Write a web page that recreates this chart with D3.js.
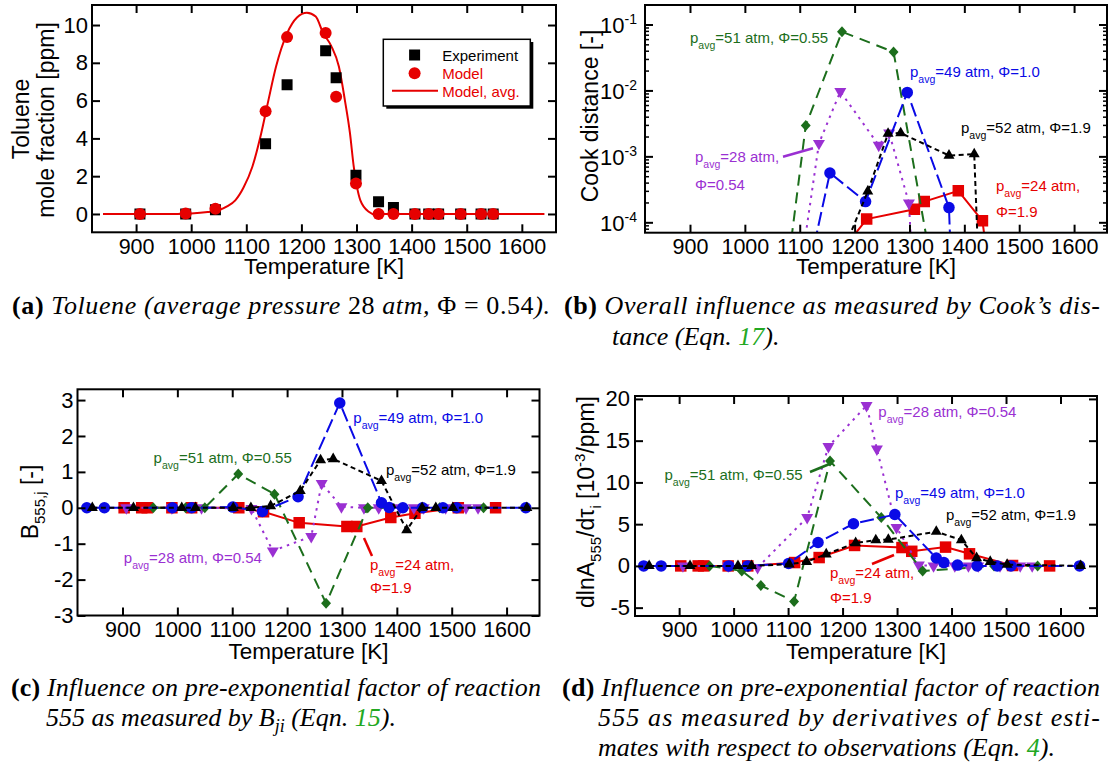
<!DOCTYPE html>
<html><head><meta charset="utf-8">
<script src="https://cdn.jsdelivr.net/npm/d3@7/dist/d3.min.js"></script>
<style>html,body{margin:0;padding:0;background:#fff;}svg{display:block}</style>
</head><body>
<svg id="fig" width="1110" height="772" xmlns="http://www.w3.org/2000/svg"></svg>
<script>
// ================= DATA =================
const xTickVals = [900, 1000, 1100, 1200, 1300, 1400, 1500, 1600];

// (a) Toluene, 28 atm, phi=0.54
const tolT     = [907, 990, 1044, 1135, 1174, 1244, 1263, 1299, 1340, 1367, 1406, 1431, 1449, 1489, 1526, 1548];
const tolExp   = [0, 0, 0.23, 3.71, 6.84, 8.64, 7.21, 2.05, 0.65, 0.34, 0, 0, 0, 0, 0, 0];
const tolModel = [0, 0.02, 0.28, 5.44, 9.36, 9.58, 6.2, 1.61, 0, 0, 0, 0, 0, 0, 0, 0];
const avgT = [840, 950, 1000, 1030, 1050, 1065, 1080, 1095, 1111, 1127, 1140, 1154, 1174, 1192, 1210, 1226, 1239, 1254, 1268, 1279, 1288, 1295, 1307, 1323, 1335, 1350, 1641];
const avgV = [0, 0, 0.03, 0.1, 0.2, 0.4, 0.72, 1.4, 2.5, 4.26, 6.0, 7.8, 9.56, 10.4, 10.65, 10.45, 9.6, 8.9, 7.8, 6.0, 4.3, 2.5, 0.72, 0.1, -0.05, 0, 0];
const aYTicks = [0, 2, 4, 6, 8, 10];

// p_avg=24 atm, phi=1.9 (red squares)
const redT    = [903, 935, 945, 990, 1026, 1112, 1157, 1222, 1309, 1327, 1389, 1433, 1512, 1580];
const redCook = [1e-9, 1e-9, 1e-9, 1e-9, 1e-9, 1e-8, 2.3e-5, 1.14e-4, 1.6e-4, 2.1e-4, 3.05e-4, 1.07e-4, 1e-9, 1e-9];
const redB    = [0, 0, 0, 0, 0, 0, -0.11, -0.42, -0.52, -0.52, -0.27, -0.15, 0, 0];
const redD    = [0, 0, 0, 0, 0, 0.4, 1.0, 2.45, 2.2, 1.75, 2.25, 1.45, 0.05, 0];

// p_avg=28 atm, phi=0.54 (purple down triangles)
const purT    = [907, 990, 1044, 1135, 1174, 1244, 1263, 1299, 1340, 1367, 1406, 1431, 1449, 1489, 1526, 1548];
const purCook = [1e-10, 1e-10, 1e-8, 1.6e-3, 9.8e-3, 1.5e-3, 2.3e-3, 2.0e-4, 1e-10, 1e-10, 1e-10, 1e-10, 1e-10, 1e-10, 1e-10, 1e-10];
const purB    = [0, 0, 0, -0.02, -1.2, -0.8, 0.68, 0.03, 0, 0, 0, 0, 0, 0, 0, 0];
const purD    = [0, 0, -0.2, 5.8, 14.3, 19.2, 14.0, 4.6, 0.1, 0, 0, 0, 0, 0, 0, 0];

// p_avg=51 atm, phi=0.55 (green diamonds)
const grnT    = [956, 1015, 1050, 1111, 1177, 1271, 1347, 1478, 1558];
const grnCook = [1e-9, 1e-8, 3e-7, 3.0e-3, 0.079, 0.039, 1.07e-5, 1e-9, 1e-9];
const grnB    = [0, 0, 0, 0.94, 0.38, -2.66, 0, 0, 0];
const grnD    = [0, -0.6, -2.35, -4.25, 12.55, 5.8, -0.6, 0, 0];

// p_avg=49 atm, phi=1.0 (blue circles)
const bluT    = [835, 867, 991, 1026, 1101, 1155, 1220, 1296, 1372, 1386, 1411, 1447, 1484, 1509, 1635];
const bluCook = [1e-9, 1e-9, 1e-9, 1e-9, 5e-6, 5.7e-4, 2.1e-4, 9.5e-3, 1.7e-4, 1e-7, 1e-9, 1e-9, 1e-9, 1e-9, 1e-9];
const bluB    = [0, 0, 0, 0, 0.02, -0.1, 0.31, 2.92, 0.14, 0.01, 0, 0, 0, 0, 0];
const bluD    = [0, 0, 0, 0, 0.3, 2.8, 5.05, 6.15, 0.95, 0.4, 0.1, 0, 0, 0, 0];

// p_avg=52 atm, phi=1.9 (black triangles)
const blkT    = [845, 920, 1008, 1033, 1102, 1134, 1170, 1224, 1261, 1284, 1372, 1418, 1446, 1471, 1502, 1637];
const blkCook = [1e-9, 1e-9, 1e-9, 1e-9, 1e-9, 1e-9, 2.4e-5, 3.0e-4, 2.25e-3, 2.3e-3, 1.05e-3, 1.1e-3, 1e-9, 1e-9, 1e-9, 1e-9];
const blkB    = [0, 0, 0, 0, 0, 0, 0.05, 0.47, 1.33, 1.36, 0.75, -0.62, 0, 0, 0, 0];
const blkD    = [0, 0, 0, 0, 0.2, 0.5, 1.4, 2.75, 3.1, 3.15, 4.1, 3.1, 0.95, 0.5, 0.15, 0];

const bYMajor  = [1e-4, 1e-3, 1e-2, 1e-1];
const bYLabels = ["-4", "-3", "-2", "-1"];
const cYTicks = [-3, -2, -1, 0, 1, 2, 3];
const dYTicks = [-5, 0, 5, 10, 15, 20];

// ================= SETUP =================
const SANS = "'Liberation Sans', Arial, Helvetica, sans-serif";
const SERIF = "'Liberation Serif', 'Times New Roman', serif";
const COL = {red: '#e60000', blue: '#0a0ae6', green: '#1c6e1c', purple: '#9a30d2', black: '#000000'};
const svg = d3.select('#fig');
svg.append('rect').attr('width', 1110).attr('height', 772).attr('fill', '#fff');

const P = {
  a: {x0: 92, x1: 556, y0: 5, y1: 232.3, xdom: [820, 1662], ydom: [-0.97, 11.06], xlab: 254, xtitle: 274, ypad: 4},
  b: {x0: 645, x1: 1107, y0: 5, y1: 232.7, xdom: [818, 1660], ydom: [Math.pow(10, -4.15), Math.pow(10, -0.697)], log: true, xlab: 254, xtitle: 274, ypad: 8},
  c: {x0: 77.5, x1: 539.5, y0: 389.3, y1: 615.5, xdom: [818, 1660], ydom: [-3, 3.3], xlab: 637, xtitle: 658.5, ypad: 4},
  d: {x0: 635, x1: 1097, y0: 396, y1: 616, xdom: [819, 1667], ydom: [-6, 20.35], xlab: 637, xtitle: 658.5, ypad: 5}
};

function scales(p) {
  const x = d3.scaleLinear().domain(p.xdom).range([p.x0, p.x1]);
  const y = (p.log ? d3.scaleLog() : d3.scaleLinear()).domain(p.ydom).range([p.y1, p.y0]);
  return {x, y};
}

let clipN = 0;
function clipFor(p) {
  const id = 'clip' + (clipN++);
  svg.append('clipPath').attr('id', id).append('rect')
    .attr('x', p.x0).attr('y', p.y0).attr('width', p.x1 - p.x0).attr('height', p.y1 - p.y0);
  return 'url(#' + id + ')';
}

function styleAxis(g, fs) {
  g.attr('font-family', SANS).attr('font-size', fs);
  g.select('.domain').remove();
  g.selectAll('.tick line').attr('stroke', '#000').attr('stroke-width', 2);
  g.selectAll('.tick text').attr('fill', '#000');
}

function drawAxes(p, x, y, yTicks) {
  const TFS = 21.5;
  const bot = svg.append('g').attr('transform', `translate(0,${p.y1})`)
    .call(d3.axisBottom(x).tickValues(xTickVals).tickSize(-8).tickPadding(p.xlab - p.y1 - 0.71 * TFS).tickFormat(d => String(d)));
  styleAxis(bot, TFS);
  const top = svg.append('g').attr('transform', `translate(0,${p.y0})`)
    .call(d3.axisTop(x).tickValues(xTickVals).tickSize(-8).tickFormat(''));
  styleAxis(top, TFS);
  if (!p.log) {
    const l = svg.append('g').attr('transform', `translate(${p.x0},0)`)
      .call(d3.axisLeft(y).tickValues(yTicks).tickSize(-8).tickPadding(p.ypad).tickFormat(d => String(d)));
    styleAxis(l, 22);
    const r = svg.append('g').attr('transform', `translate(${p.x1},0)`)
      .call(d3.axisRight(y).tickValues(yTicks).tickSize(-8).tickFormat(''));
    styleAxis(r, 22);
  }
  svg.append('rect').attr('x', p.x0).attr('y', p.y0).attr('width', p.x1 - p.x0).attr('height', p.y1 - p.y0)
    .attr('fill', 'none').attr('stroke', '#000').attr('stroke-width', 2);
}

function xTitle(p, cx) {
  svg.append('text').attr('x', cx).attr('y', p.xtitle).attr('text-anchor', 'middle')
    .attr('font-family', SANS).attr('font-size', 22.5).text('Temperature [K]');
}

function symPath(shape, s) {
  const h = s * 0.87;
  switch (shape) {
    case 'square': return `M${-s/2},${-s/2}h${s}v${s}h${-s}Z`;
    case 'circle': return d3.symbol(d3.symbolCircle, Math.PI * (s / 2) * (s / 2))();
    case 'tri': return `M0,${-h*2/3}L${s/2},${h/3}L${-s/2},${h/3}Z`;
    case 'tridown': return `M0,${h*2/3}L${s/2},${-h/3}L${-s/2},${-h/3}Z`;
    case 'diamond': return `M0,${-s/2}L${s*0.45},0L0,${s/2}L${-s*0.45},0Z`;
  }
}

function pavg(x, y, rest, color, fs) {
  fs = fs || 15;
  const t = svg.append('text').attr('x', x).attr('y', y).attr('fill', color)
    .attr('font-size', fs).attr('font-family', SANS);
  t.append('tspan').text('p');
  t.append('tspan').attr('font-size', fs * 0.7).attr('dy', 6).text('avg');
  t.append('tspan').attr('dy', -6).text(rest);
  return t;
}
function plain(x, y, str, color) {
  svg.append('text').attr('x', x).attr('y', y).attr('fill', color)
    .attr('font-size', 15).attr('font-family', SANS).text(str);
}
function leader(x1, y1, x2, y2, color) {
  svg.append('line').attr('x1', x1).attr('y1', y1).attr('x2', x2).attr('y2', y2)
    .attr('stroke', color).attr('stroke-width', 2.5);
}

// ================= PANEL (a) =================
(function () {
  const p = P.a; const {x, y} = scales(p);
  const clip = clipFor(p);
  const g = svg.append('g').attr('clip-path', clip);
  const line = d3.line().x(d => x(d[0])).y(d => y(d[1])).curve(d3.curveMonotoneX);
  g.append('path').datum(avgT.map((t, i) => [t, avgV[i]])).attr('d', line)
    .attr('fill', 'none').attr('stroke', COL.red).attr('stroke-width', 2);
  g.selectAll('.sq').data(tolT.map((t, i) => [t, tolExp[i]])).enter().append('path')
    .attr('transform', d => `translate(${x(d[0])},${y(d[1])})`).attr('d', symPath('square', 11)).attr('fill', '#000');
  g.selectAll('.ci').data(tolT.map((t, i) => [t, tolModel[i]])).enter().append('path')
    .attr('transform', d => `translate(${x(d[0])},${y(d[1])})`).attr('d', symPath('circle', 12)).attr('fill', COL.red);
  drawAxes(p, x, y, aYTicks);
  xTitle(p, (p.x0 + p.x1) / 2);
  svg.append('text').attr('transform', 'translate(28.5,119) rotate(-90)').attr('text-anchor', 'middle')
    .attr('font-family', SANS).attr('font-size', 23).text('Toluene');
  svg.append('text').attr('transform', 'translate(54,120) rotate(-90)').attr('text-anchor', 'middle')
    .attr('font-family', SANS).attr('font-size', 23).text('mole fraction [ppm]');
  // legend
  svg.append('rect').attr('x', 386.3).attr('y', 42).attr('width', 147).attr('height', 66.7).attr('fill', '#000');
  svg.append('rect').attr('x', 383.3).attr('y', 39.3).attr('width', 147).attr('height', 66.7)
    .attr('fill', '#fff').attr('stroke', '#000').attr('stroke-width', 1.5);
  svg.append('path').attr('transform', 'translate(414.6,55)').attr('d', symPath('square', 11)).attr('fill', '#000');
  svg.append('path').attr('transform', 'translate(414.6,73.3)').attr('d', symPath('circle', 12)).attr('fill', COL.red);
  svg.append('line').attr('x1', 392).attr('x2', 438).attr('y1', 90.7).attr('y2', 90.7).attr('stroke', COL.red).attr('stroke-width', 2);
  const lg = [['Experiment', 61, '#000'], ['Model', 79, COL.red], ['Model, avg.', 96.7, COL.red]];
  lg.forEach(d => svg.append('text').attr('x', 442.2).attr('y', d[1]).attr('fill', d[2])
    .attr('font-family', SANS).attr('font-size', 15).text(d[0]));
})();

// ================= SERIES for b,c,d =================
const series = [
  {T: redT, b: redCook, c: redB, d: redD, color: COL.red, dash: null, shape: 'square', size: 11.5},
  {T: purT, b: purCook, c: purB, d: purD, color: COL.purple, dash: '2.5,5', shape: 'tridown', size: 12},
  {T: grnT, b: grnCook, c: grnB, d: grnD, color: COL.green, dash: '11,7', shape: 'diamond', size: 11},
  {T: bluT, b: bluCook, c: bluB, d: bluD, color: COL.blue, dash: '14,5', shape: 'circle', size: 11.5},
  {T: blkT, b: blkCook, c: blkB, d: blkD, color: COL.black, dash: '5,3.5', shape: 'tri', size: 11}
];

function drawSeries(p, x, y, key) {
  const clip = clipFor(p);
  const g = svg.append('g').attr('clip-path', clip);
  const line = d3.line().x(d => x(d[0])).y(d => y(d[1]));
  series.forEach(s => {
    const pts = s.T.map((t, i) => [t, s[key][i]]);
    g.append('path').datum(pts).attr('d', line).attr('fill', 'none').attr('stroke', s.color)
      .attr('stroke-width', 2).attr('stroke-dasharray', s.dash);
    g.selectAll(null).data(pts).enter().append('path')
      .attr('transform', d => `translate(${x(d[0])},${y(d[1])})`)
      .attr('d', symPath(s.shape, s.size)).attr('fill', s.color);
  });
}

// ================= PANEL (b) =================
(function () {
  const p = P.b; const {x, y} = scales(p);
  drawSeries(p, x, y, 'b');
  drawAxes(p, x, y, null);
  const minors = [];
  [1e-5, 1e-4, 1e-3, 1e-2, 1e-1].forEach(dec => { for (let k = 2; k <= 9; k++) { const v = dec * k; if (v > p.ydom[0] && v < p.ydom[1]) minors.push(v); } });
  const tickG = svg.append('g').attr('stroke', '#000').attr('stroke-width', 2);
  bYMajor.forEach(v => {
    tickG.append('line').attr('x1', p.x0).attr('x2', p.x0 + 8).attr('y1', y(v)).attr('y2', y(v));
    tickG.append('line').attr('x1', p.x1).attr('x2', p.x1 - 8).attr('y1', y(v)).attr('y2', y(v));
  });
  minors.forEach(v => {
    tickG.append('line').attr('x1', p.x0).attr('x2', p.x0 + 4).attr('y1', y(v)).attr('y2', y(v)).attr('stroke-width', 1.5);
    tickG.append('line').attr('x1', p.x1).attr('x2', p.x1 - 4).attr('y1', y(v)).attr('y2', y(v)).attr('stroke-width', 1.5);
  });
  bYMajor.forEach((v, i) => {
    const t = svg.append('text').attr('x', p.x0 - p.ypad).attr('y', y(v) + 8).attr('text-anchor', 'end')
      .attr('font-family', SANS).attr('font-size', 22);
    t.append('tspan').text('10');
    t.append('tspan').attr('font-size', 14).attr('dy', -9).text(bYLabels[i]);
  });
  xTitle(p, (p.x0 + p.x1) / 2);
  svg.append('text').attr('transform', 'translate(598,116) rotate(-90)').attr('text-anchor', 'middle')
    .attr('font-family', SANS).attr('font-size', 23).text('Cook distance [-]');
  pavg(690, 43.3, '=51 atm, \u03A6=0.55', COL.green);
  pavg(910, 76.7, '=49 atm, \u03A6=1.0', COL.blue);
  pavg(961, 132.7, '=52 atm, \u03A6=1.9', COL.black);
  pavg(996, 191, '=24 atm,', COL.red);
  plain(996, 216.7, '\u03A6=1.9', COL.red);
  pavg(695, 161.7, '=28 atm,', COL.purple);
  plain(695, 190, '\u03A6=0.54', COL.purple);
  leader(783, 156.7, 813, 148.3, COL.purple);
})();

// ================= PANEL (c) =================
(function () {
  const p = P.c; const {x, y} = scales(p);
  drawSeries(p, x, y, 'c');
  drawAxes(p, x, y, cYTicks);
  xTitle(p, (p.x0 + p.x1) / 2);
  const t = svg.append('text').attr('transform', 'translate(37.5,502) rotate(-90)').attr('text-anchor', 'middle')
    .attr('font-family', SANS).attr('font-size', 23);
  t.append('tspan').text('B');
  t.append('tspan').attr('font-size', 15).attr('dy', 7).text('555,j');
  t.append('tspan').attr('dy', -7).text(' [-]');
  pavg(353.3, 423.3, '=49 atm, \u03A6=1.0', COL.blue);
  pavg(153.6, 462.7, '=51 atm, \u03A6=0.55', COL.green);
  pavg(386, 475, '=52 atm, \u03A6=1.9', COL.black);
  pavg(123.8, 563.3, '=28 atm, \u03A6=0.54', COL.purple);
  pavg(370, 570, '=24 atm,', COL.red);
  plain(370, 593.3, '\u03A6=1.9', COL.red);
  leader(364, 538, 372, 556, COL.red);
})();

// ================= PANEL (d) =================
(function () {
  const p = P.d; const {x, y} = scales(p);
  drawSeries(p, x, y, 'd');
  drawAxes(p, x, y, dYTicks);
  xTitle(p, (p.x0 + p.x1) / 2);
  const t = svg.append('text').attr('transform', 'translate(593.5,502) rotate(-90)').attr('text-anchor', 'middle')
    .attr('font-family', SANS).attr('font-size', 23);
  t.append('tspan').text('dlnA');
  t.append('tspan').attr('font-size', 15).attr('dy', 7).text('555');
  t.append('tspan').attr('dy', -7).text('/d\u03C4');
  t.append('tspan').attr('font-size', 15).attr('dy', 7).text('i');
  t.append('tspan').attr('dy', -7).text(' [10');
  t.append('tspan').attr('font-size', 15).attr('dy', -9).text('-3');
  t.append('tspan').attr('dy', 9).text('/ppm]');
  pavg(878.3, 416.7, '=28 atm, \u03A6=0.54', COL.purple);
  pavg(895, 498.3, '=49 atm, \u03A6=1.0', COL.blue);
  pavg(946, 520, '=52 atm, \u03A6=1.9', COL.black);
  pavg(664.5, 480, '=51 atm, \u03A6=0.55', COL.green);
  leader(810, 472, 832, 463, COL.green);
  pavg(830, 578.3, '=24 atm,', COL.red);
  plain(830, 603.3, '\u03A6=1.9', COL.red);
  leader(872, 564, 894, 555, COL.red);
})();

// ================= CAPTIONS =================
function caption(x, y, parts, width) {
  const t = svg.append('text').attr('x', x).attr('y', y).attr('font-family', SERIF).attr('font-size', 26).attr('fill', '#000');
  parts.forEach(pt => {
    const s = t.append('tspan').text(pt[0]);
    const o = pt[1] || {};
    if (o.bold) s.attr('font-weight', 'bold').attr('font-style', 'normal');
    else if (o.upright) s.attr('font-style', 'normal');
    else s.attr('font-style', 'italic');
    if (o.green) s.attr('fill', '#22a822');
    if (o.sub) s.attr('font-size', 18).attr('dy', 6);
    if (o.reset) s.attr('dy', -6);
  });
  if (width) t.attr('textLength', width).attr('lengthAdjust', 'spacing');
  return t;
}
caption(12, 314, [['(a)', {bold: 1}], [' Toluene (average pressure '], ['28', {upright: 1}], [' atm, '], ['\u03A6 = 0.54', {upright: 1}], [').']], 538);
caption(564, 314, [['(b)', {bold: 1}], [' Overall influence as measured by Cook\u2019s dis-']], 536);
caption(612, 345, [['tance (Eqn. '], ['17', {green: 1}], [').']]);
caption(11, 696, [['(c)', {bold: 1}], [' Influence on pre-exponential factor of reaction']], 530);
caption(46, 726, [['555 as measured by '], ['B'], ['ji', {sub: 1}], [' (Eqn. ', {reset: 1}], ['15', {green: 1}], [').']]);
caption(562, 696, [['(d)', {bold: 1}], [' Influence on pre-exponential factor of reaction']], 538);
caption(598, 726, [['555 as measured by derivatives of best esti-']], 502);
caption(598, 756, [['mates with respect to observations (Eqn. '], ['4', {green: 1}], [').']]);
</script>
</body></html>
